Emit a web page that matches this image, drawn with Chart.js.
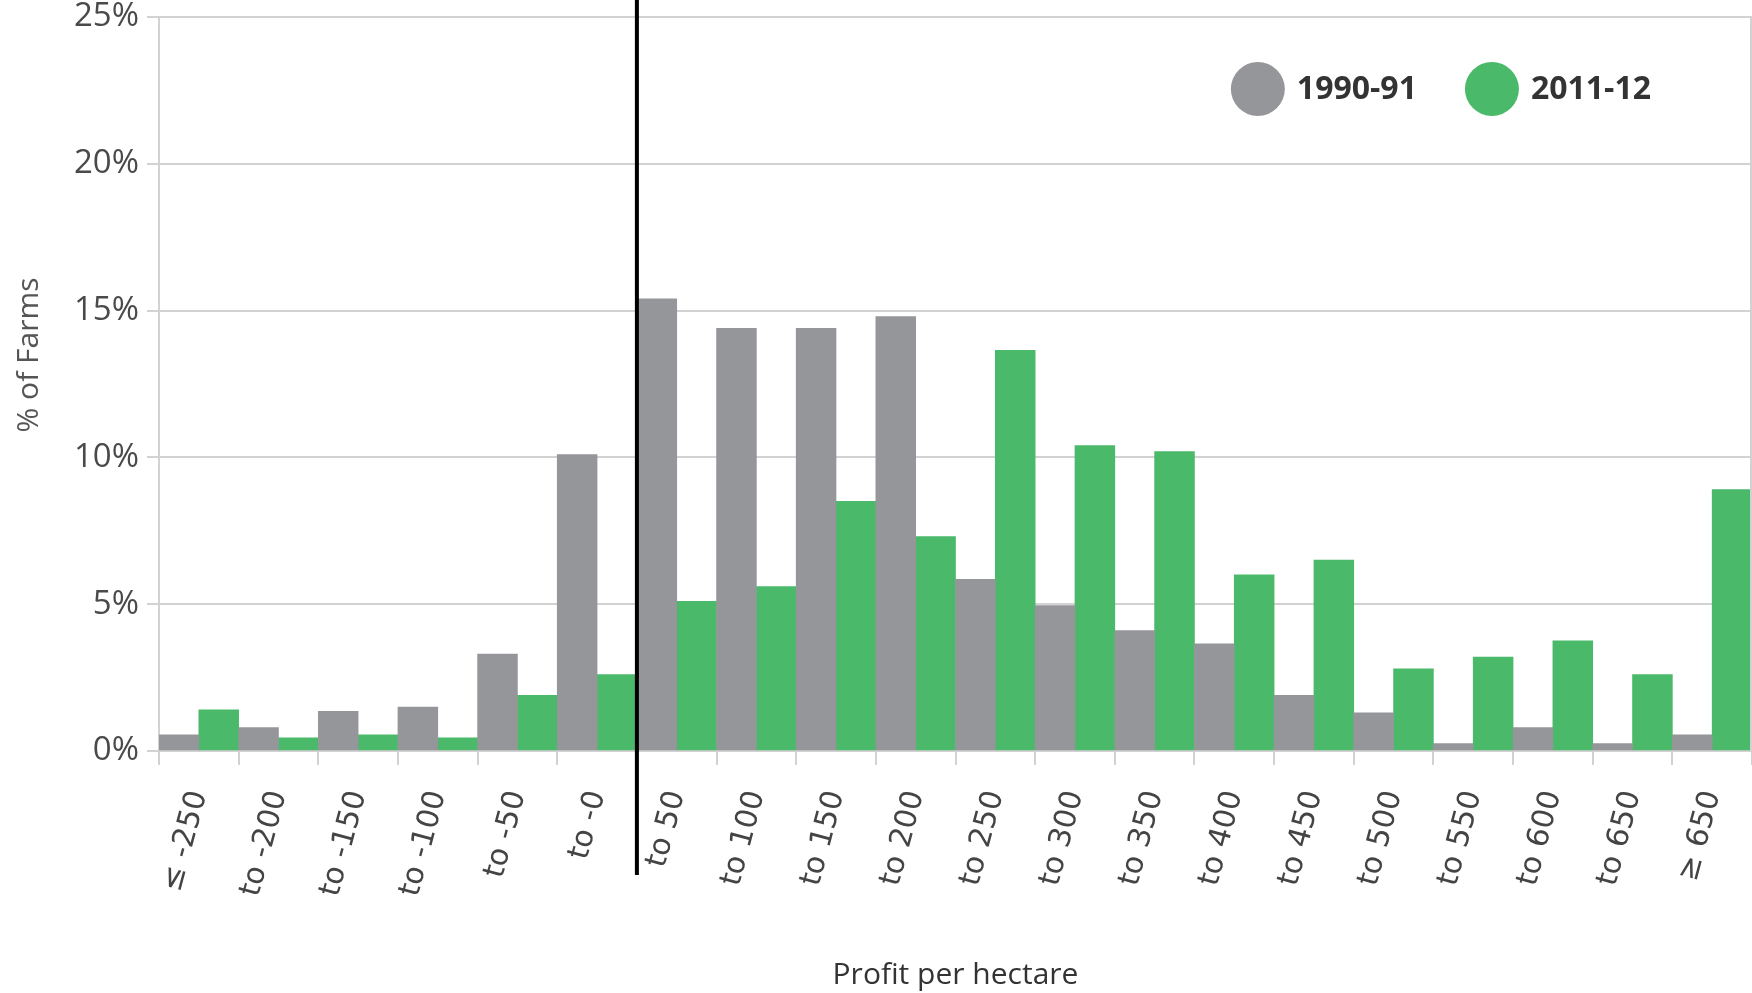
<!DOCTYPE html>
<html lang="en">
<head>
<meta charset="UTF-8">
<title>Profit per hectare</title>
<script src="https://cdn.jsdelivr.net/npm/chart.js"></script>
<style>
    html, body { margin: 0; padding: 0; background: #fff; }
    #wrap { width: 1752px; height: 993px; }
</style>
</head>
<body>
<div id="wrap"><canvas id="farmChart" width="1752" height="993"></canvas></div>
<script>
// profit bands (per hectare)
const categories = ['≤ -250', 'to -200', 'to -150', 'to -100', 'to -50', 'to -0',
    'to 50', 'to 100', 'to 150', 'to 200', 'to 250', 'to 300', 'to 350', 'to 400',
    'to 450', 'to 500', 'to 550', 'to 600', 'to 650', '≥ 650'];

// % of farms
const farms1990 = [0.55, 0.8, 1.35, 1.5, 3.3, 10.1, 15.4, 14.4, 14.4, 14.8,
    5.85, 4.95, 4.1, 3.65, 1.9, 1.3, 0.25, 0.8, 0.25, 0.55];
const farms2011 = [1.4, 0.45, 0.55, 0.45, 1.9, 2.6, 5.1, 5.6, 8.5, 7.3,
    13.65, 10.4, 10.2, 6.0, 6.5, 2.8, 3.2, 3.75, 2.6, 8.9];

const seriesLabels = ['1990-91', '2011-12'];
const seriesColors = ['#95969a', '#4ab96a'];
const yMax = 25;
const yStep = 5;
const yTitle = '% of Farms';

// black line between loss and profit bands
const dividerLine = {
    id: 'dividerLine',
    afterDraw(chart) {
        const {ctx, chartArea, scales: {x}} = chart;
        const px = (x.getPixelForValue(5) + x.getPixelForValue(6)) / 2;
        ctx.save();
        ctx.strokeStyle = '#000';
        ctx.lineWidth = 4;
        ctx.beginPath();
        ctx.moveTo(px, 0);
        ctx.lineTo(px, chartArea.bottom + 124);
        ctx.stroke();
        ctx.restore();
    }
};

// right frame line, y title (sits a bit above centre) and legend inside the plot
const extras = {
    id: 'extras',
    afterDraw(chart) {
        const {ctx, chartArea} = chart;
        ctx.save();
        ctx.strokeStyle = '#d2d2d2';
        ctx.lineWidth = 2;
        ctx.beginPath();
        ctx.moveTo(chartArea.right - 1, chartArea.top);
        ctx.lineTo(chartArea.right - 1, chartArea.bottom);
        ctx.stroke();

        // y axis title
        ctx.save();
        ctx.translate(29, (chartArea.top + chartArea.bottom) / 2 - 29);
        ctx.rotate(-Math.PI / 2);
        ctx.font = '30px "Open Sans"';
        ctx.fillStyle = '#555';
        ctx.textAlign = 'center';
        ctx.textBaseline = 'middle';
        ctx.fillText(yTitle, 0, 0);
        ctx.restore();

        // legend
        ctx.font = 'bold 32px "Open Sans"';
        ctx.textBaseline = 'middle';
        ctx.textAlign = 'left';
        const r = 27, gap = 12, itemGap = 48;
        const y = chartArea.top + 72;
        let xEnd = chartArea.right - 101;
        const sets = chart.data.datasets;
        for (let i = sets.length - 1; i >= 0; i--) {
            const w = ctx.measureText(sets[i].label).width;
            const tx = xEnd - w;
            const cx = tx - gap - r;
            ctx.fillStyle = sets[i].backgroundColor;
            ctx.beginPath();
            ctx.arc(cx, y, r, 0, Math.PI * 2);
            ctx.fill();
            ctx.fillStyle = '#333';
            ctx.fillText(sets[i].label, tx, y + 1);
            xEnd = cx - r - itemGap;
        }
        ctx.restore();
    }
};

const ctx = document.getElementById('farmChart').getContext('2d');
new Chart(ctx, {
    type: 'bar',
    data: {
        labels: categories,
        datasets: [
            { label: seriesLabels[0], data: farms1990, backgroundColor: seriesColors[0] },
            { label: seriesLabels[1], data: farms2011, backgroundColor: seriesColors[1] }
        ]
    },
    options: {
        responsive: false,
        animation: false,
        layout: { padding: { top: 17, right: 0, bottom: 0, left: 0 } },
        datasets: {
            bar: { categoryPercentage: 1, barPercentage: 1, borderWidth: 0 }
        },
        plugins: {
            legend: { display: false },
            tooltip: { enabled: false }
        },
        scales: {
            x: {
                grid: {
                    offset: true,
                    drawOnChartArea: false,
                    drawTicks: true,
                    tickLength: 14,
                    color: '#d2d2d2',
                    lineWidth: 2
                },
                border: { display: false },
                ticks: {
                    minRotation: 75,
                    maxRotation: 75,
                    padding: 22,
                    color: '#444',
                    font: { family: '"DejaVu Sans"', size: 30 },
                    autoSkip: false
                },
                title: {
                    display: true,
                    text: 'Profit per hectare',
                    color: '#333',
                    font: { family: '"Open Sans"', size: 30 },
                    padding: { top: 0, bottom: 0 }
                },
                afterFit(s) { s.height = 242; s.paddingRight = 0; s.paddingLeft = 0; }
            },
            y: {
                min: 0,
                max: yMax,
                ticks: {
                    stepSize: yStep,
                    padding: 8,
                    color: '#4a4a4a',
                    font: { family: '"Open Sans"', size: 33 },
                    callback: v => v + '%'
                },
                grid: {
                    color: '#d2d2d2',
                    lineWidth: 2,
                    tickLength: 12
                },
                border: { color: '#d2d2d2', width: 2 },
                title: { display: false },
                afterFit(s) { s.width = 159; s.paddingTop = 0; s.paddingBottom = 0; }
            }
        }
    },
    plugins: [dividerLine, extras]
});
</script>
</body>
</html>
